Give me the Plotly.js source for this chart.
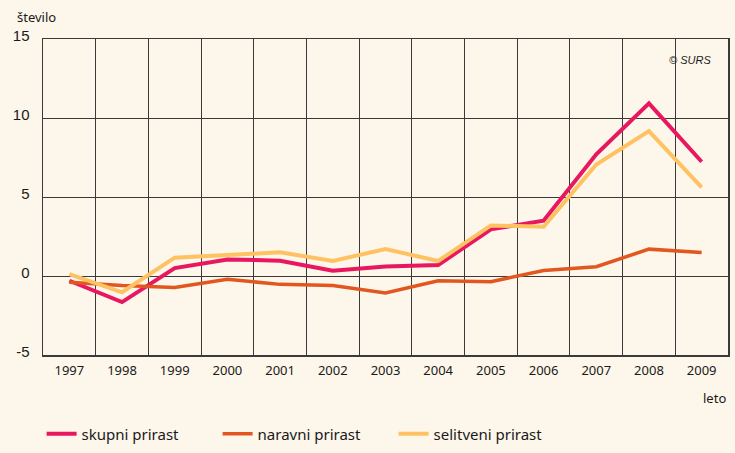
<!DOCTYPE html>
<html>
<head>
<meta charset="utf-8">
<script src="https://cdn.plot.ly/plotly-3.0.1.min.js"></script>
<style>html,body{margin:0;padding:0;background:#fdf6ea;}#chart{width:735px;height:453px;}</style>
</head>
<body>
<div id="chart"></div>
<script>
var years = [1997,1998,1999,2000,2001,2002,2003,2004,2005,2006,2007,2008,2009];
var yearLabels = ['1997','1998','1999','2000','2001','2002','2003','2004','2005','2006','2007','2008','2009'];
var skupni = [-0.3,-1.65,0.5,1.05,0.97,0.33,0.6,0.7,2.95,3.5,7.7,10.93,7.23];
var naravni = [-0.4,-0.6,-0.72,-0.21,-0.53,-0.6,-1.07,-0.3,-0.36,0.35,0.59,1.7,1.48];
var selitveni = [0.12,-1.03,1.16,1.33,1.5,0.95,1.71,0.95,3.2,3.12,7.06,9.17,5.61];
var seriesNames = ['skupni prirast','naravni prirast','selitveni prirast'];
var yTicks = [-5,0,5,10,15];
var yTickLabels = ['-5','0','5','10','15'];

var bg = '#fdf6ea';
var grid = '#3a3a3a';

var traces = [
  {x: years, y: skupni, name: seriesNames[0], type: 'scatter', mode: 'lines',
   line: {color: '#e8175f', width: 4}},
  {x: years, y: naravni, name: seriesNames[1], type: 'scatter', mode: 'lines',
   line: {color: '#e2571f', width: 3.5}},
  {x: years, y: selitveni, name: seriesNames[2], type: 'scatter', mode: 'lines',
   line: {color: '#fec263', width: 4}}
];

var layout = {
  width: 735, height: 453,
  paper_bgcolor: bg, plot_bgcolor: bg,
  margin: {l: 43, r: 7, t: 39, b: 98},
  showlegend: true,
  legend: {orientation: 'h', xref: 'container', yref: 'container',
           x: 0.0566, xanchor: 'left', y: 0.042, yanchor: 'middle',
           entrywidth: 131, entrywidthmode: 'pixels', traceorder: 'normal',
           font: {family: 'Noto Sans', size: 15, color: '#1a1a1a'}, bgcolor: 'rgba(0,0,0,0)'},
  xaxis: {
    type: 'linear', range: [1996.5, 2009.5], tickvals: years, ticktext: yearLabels,
    showgrid: false, zeroline: false, ticks: '', ticklabelstandoff: 3,
    showline: true, linecolor: grid, linewidth: 1.5, mirror: true,
    tickfont: {family: 'Noto Sans', size: 13, color: '#1a1a1a'},
    minor: {tick0: 1996.5, dtick: 1, showgrid: true, gridcolor: grid, gridwidth: 1, ticks: ''},
    fixedrange: true
  },
  yaxis: {
    range: [-5, 15], tickvals: yTicks, ticktext: yTickLabels, showgrid: true, gridcolor: grid, gridwidth: 1,
    zeroline: false, ticks: '', ticklabelstandoff: 9, ticklabelshift: -3,
    showline: true, linecolor: grid, linewidth: 1.5, mirror: true,
    tickfont: {family: 'Liberation Sans', size: 15, color: '#1a1a1a'},
    fixedrange: true
  },
  annotations: [
    {text: 'število', xref: 'paper', yref: 'paper', x: -0.041, y: 1.07, xanchor: 'left', yanchor: 'middle',
     showarrow: false, font: {family: 'Noto Sans', size: 13, color: '#1a1a1a'}},
    {text: 'leto', xref: 'paper', yref: 'paper', x: 1, y: -0.135, xanchor: 'right', yanchor: 'middle',
     showarrow: false, font: {family: 'Noto Sans', size: 13, color: '#1a1a1a'}},
    {text: '<i>© SURS</i>', xref: 'paper', yref: 'paper', x: 0.978, y: 0.935, xanchor: 'right', yanchor: 'middle',
     showarrow: false, font: {family: 'Liberation Sans', size: 11, color: '#1a1a1a'}}
  ]
};

Plotly.newPlot('chart', traces, layout, {displayModeBar: false, staticPlot: true});
</script>
</body>
</html>
